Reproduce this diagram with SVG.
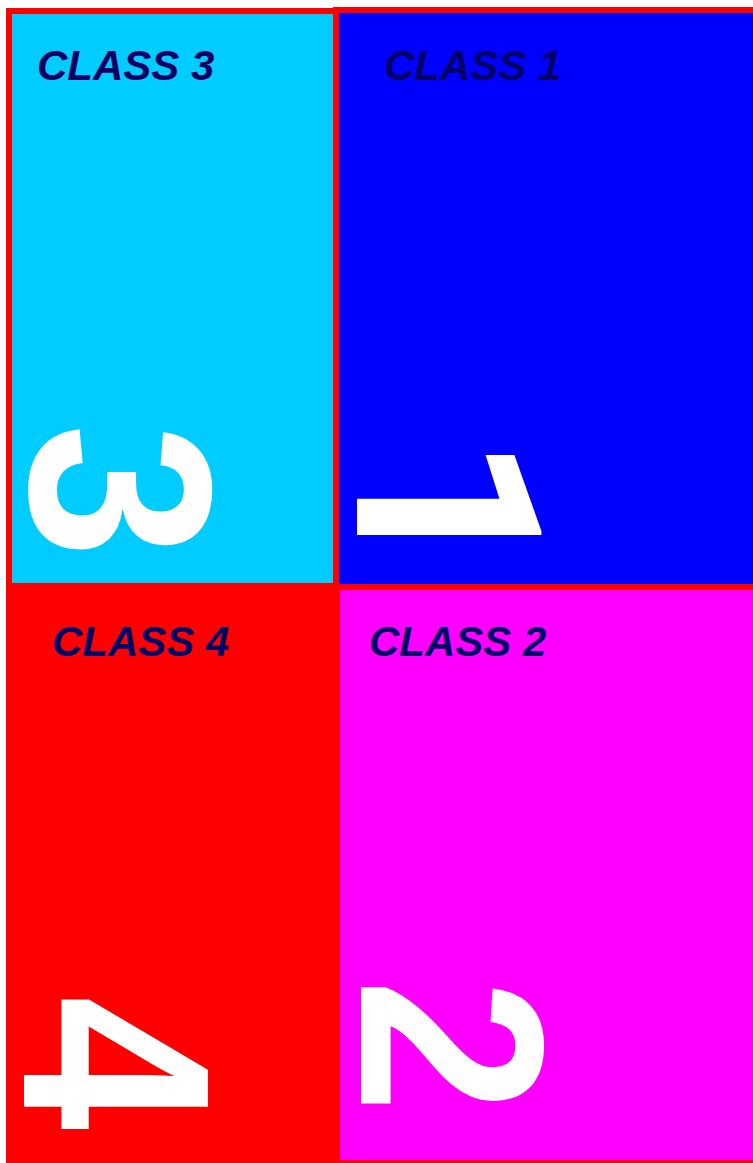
<svg xmlns="http://www.w3.org/2000/svg" width="753" height="1163" viewBox="0 0 753 1163">
<style>
.lbl{font-family:"Liberation Sans",Arial,sans-serif;font-weight:bold;font-style:italic;font-size:42px;fill:#000066}
.num{font-family:"Liberation Sans",Arial,sans-serif;font-weight:bold;font-size:257px;fill:#ffffff;text-anchor:middle}
.one{font-family:Roboto,"Liberation Sans",sans-serif;font-weight:bold;font-size:259px;fill:#ffffff;text-anchor:middle}
.box{stroke:#ff0000;stroke-width:6}
</style>
<rect width="753" height="1163" fill="#ffffff"/>
<g id="class4">
<rect x="6" y="583" width="340" height="590" fill="#ff0000"/>
<text class="lbl" x="52" y="656">CLASS 4</text>
<text class="num" transform="translate(24,1063) rotate(90) scale(0.94,1.04)">4</text>
</g>
<g id="class2">
<rect class="box" x="337" y="587" width="430" height="576" fill="#ff00ff"/>
<text class="lbl" x="369" y="656">CLASS 2</text>
<text class="num" transform="translate(361,1046) rotate(90) scale(0.94,1.02)">2</text>
</g>
<g id="class3">
<rect class="box" x="9" y="11" width="327" height="575" fill="#00ccff"/>
<text class="lbl" x="37" y="80">CLASS 3</text>
<text class="num" transform="translate(31,491) rotate(90) scale(0.94,1.01)">3</text>
</g>
<g id="class1">
<rect class="box" x="336" y="10" width="430" height="577" fill="#0000ff"/>
<text class="lbl" x="384" y="80">CLASS 1</text>
<text class="one" transform="translate(357,508) rotate(90)">1</text>
</g>
<g id="connectors"></g>
</svg>
